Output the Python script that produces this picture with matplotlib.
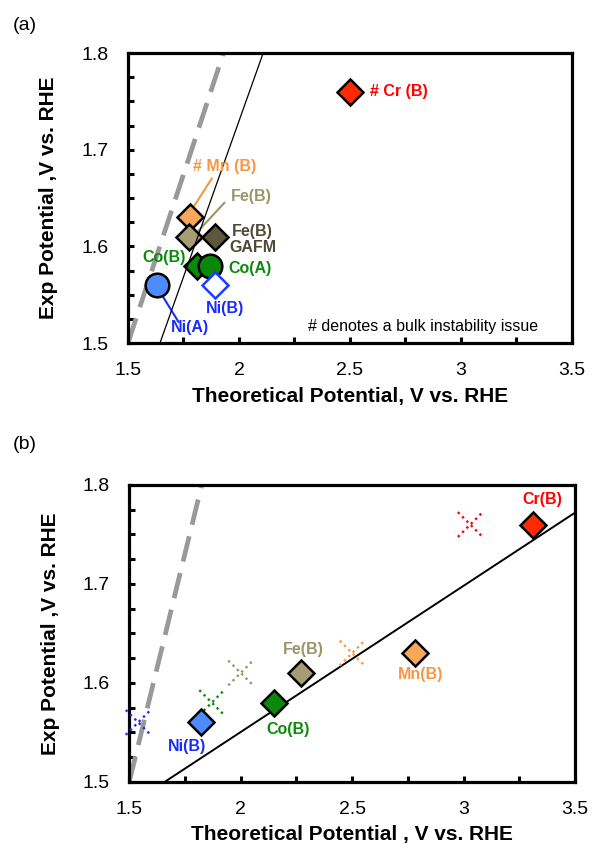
import matplotlib
matplotlib.use('Agg')
import matplotlib.pyplot as plt
import numpy as np

plt.rcParams['font.family'] = ['Liberation Sans', 'DejaVu Sans']

# ---------------- data ----------------
# Panel (a)
a_labels = ['# Cr (B)', '# Mn (B)', 'Fe(B)', 'Fe(B)\nGAFM', 'Co(B)', 'Co(A)', 'Ni(A)', 'Ni(B)']
a_theo = [2.50, 1.78, 1.775, 1.89, 1.81, 1.87, 1.63, 1.89]
a_exp = [1.76, 1.63, 1.61, 1.61, 1.58, 1.58, 1.56, 1.56]

# Panel (b)
b_labels = ['Cr(B)', 'Mn(B)', 'Fe(B)', 'Co(B)', 'Ni(B)']
b_theo = [3.31, 2.78, 2.27, 2.15, 1.82]
b_exp = [1.76, 1.63, 1.61, 1.58, 1.56]
b_cross_theo = [3.03, 2.50, 2.00, 1.87, 1.54]

# reference lines
a_dash_x, a_dash_y = [1.5, 1.93], [1.5, 1.8]
a_fit_x, a_fit_y = [1.644, 2.109], [1.5, 1.8]
b_dash_x, b_dash_y = [1.5, 1.825], [1.5, 1.8]
b_fit_x, b_fit_y = [1.66, 3.5], [1.5, 1.772]

x_ticks = [1.5, 2.0, 2.5, 3.0, 3.5]
x_ticklabels = ['1.5', '2', '2.5', '3', '3.5']
y_ticks = [1.5, 1.6, 1.7, 1.8]
y_ticklabels = ['1.5', '1.6', '1.7', '1.8']

# ---------------- styles ----------------
RED_F, RED_T = '#FF2A00', '#FF0000'
ORG_F, ORG_T = '#F7A65A', '#F79646'
TAN_F, TAN_T = '#A69D74', '#9C9467'
DRK_F, DRK_T = '#5E573F', '#4F4A35'
GRN_F, GRN_T = '#0B870B', '#0A8A0A'
BLU_F, BLU_T = '#4D8BFF', '#1A2BFF'

a_fill = [RED_F, ORG_F, TAN_F, DRK_F, GRN_F, GRN_F, BLU_F, 'white']
a_edge = ['black'] * 7 + ['#1C3CFF']
a_mark = ['D', 'D', 'D', 'D', 'D', 'o', 'o', 'D']
a_text_col = [RED_T, ORG_T, TAN_T, DRK_T, GRN_T, GRN_T, BLU_T, BLU_T]
a_text_pos = [(2.59, 1.760, 'left'), (1.794, 1.683, 'left'), (1.964, 1.652, 'left'),
              (2.062, 1.607, 'center'), (1.661, 1.588, 'center'), (1.952, 1.577, 'left'),
              (1.780, 1.516, 'center'), (1.935, 1.536, 'center')]

b_fill = [RED_F, ORG_F, TAN_F, GRN_F, BLU_F]
b_text_col = [RED_T, ORG_T, TAN_T, GRN_T, BLU_T]
b_text_pos = [(3.352, 1.7855), (2.805, 1.6086), (2.281, 1.634), (2.214, 1.553), (1.758, 1.536)]

fig = plt.figure(figsize=(5.92, 8.43), dpi=100)
axA = fig.add_axes([0.2162, 0.5931, 0.750, 0.344])
axB = fig.add_axes([0.2184, 0.0727, 0.7529, 0.352])


def style_axes(ax, xlabel, ylabel, xlab_y, ylab_x):
    ax.set_xlim(1.5, 3.5)
    ax.set_ylim(1.5, 1.8)
    ax.set_xticks(x_ticks)
    ax.set_xticklabels(x_ticklabels)
    ax.set_yticks(y_ticks)
    ax.set_yticklabels(y_ticklabels)
    ax.set_xticks(np.arange(1.75, 3.5, 0.5), minor=True)
    ax.set_yticks(np.arange(1.525, 1.8, 0.025), minor=True)
    for s in ax.spines.values():
        s.set_linewidth(2.3)
        s.set_color('black')
    ax.tick_params(which='both', direction='in', length=4, width=2.2,
                   top=False, right=False, color='black')
    ax.tick_params(axis='x', which='major', labelsize=14, pad=14)
    ax.tick_params(axis='y', which='major', labelsize=14, pad=14)
    ax.set_xlabel(xlabel, fontsize=15, fontweight='bold')
    ax.set_ylabel(ylabel, fontsize=15, fontweight='bold')
    ax.xaxis.set_label_coords(0.5, xlab_y)
    ax.yaxis.set_label_coords(ylab_x, 0.5)


# ---------------- panel (a) ----------------
style_axes(axA, 'Theoretical Potential, V vs. RHE', 'Exp Potential ,V vs. RHE', -0.152, -0.157)
axA.plot(a_dash_x, a_dash_y, color='#999999', lw=3.4, ls=(0, (5.5, 2.5)), zorder=2,
         solid_capstyle='butt', dash_capstyle='butt')
for i in range(len(a_theo)):
    ms = 17 if a_mark[i] == 'o' else 13.5
    axA.plot(a_theo[i], a_exp[i], marker=a_mark[i], ms=ms, mfc=a_fill[i], mec=a_edge[i],
             mew=1.8, ls='none', zorder=3 + i * 0.1, clip_on=False)
axA.plot(a_fit_x, a_fit_y, color='black', lw=0.9, zorder=4)
# leader lines
axA.plot([1.782, 1.877], [1.636, 1.670], color=ORG_T, lw=1.5, zorder=2.5)
axA.plot([1.817, 1.934], [1.616, 1.645], color=TAN_T, lw=1.5, zorder=2.5)
axA.plot([1.652, 1.727], [1.550, 1.522], color=BLU_T, lw=1.5, zorder=2.5)
for i, lab in enumerate(a_labels):
    x, y, ha = a_text_pos[i]
    axA.text(x, y, lab, color=a_text_col[i], fontsize=11.5, fontweight='bold',
             ha=ha, va='center', zorder=6, linespacing=1.15)
axA.text(2.312, 1.517, '# denotes a bulk instability issue', fontsize=11.5,
         ha='left', va='center', color='black')

# ---------------- panel (b) ----------------
style_axes(axB, 'Theoretical Potential , V vs. RHE', 'Exp Potential ,V vs. RHE', -0.146, -0.155)
axB.plot(b_dash_x, b_dash_y, color='#999999', lw=3.4, ls=(0, (5.5, 2.5)), zorder=2,
         dash_capstyle='butt')
axB.plot(b_fit_x, b_fit_y, color='black', lw=1.4, zorder=2)
axB.scatter(b_cross_theo, b_exp, marker='x', s=320, c=b_text_col, linewidths=1.7,
            linestyles=[(0, (1, 1.6))], zorder=3, clip_on=False)
for i in range(len(b_theo)):
    axB.plot(b_theo[i], b_exp[i], marker='D', ms=13.5, mfc=b_fill[i], mec='black',
             mew=1.8, ls='none', zorder=4)
for i, lab in enumerate(b_labels):
    x, y = b_text_pos[i]
    axB.text(x, y, lab, color=b_text_col[i], fontsize=11.5, fontweight='bold',
             ha='center', va='center', zorder=6)

fig.text(13 / 592, 1 - 25 / 843, '(a)', fontsize=14, ha='left', va='center')
fig.text(13 / 592, 1 - 445 / 843, '(b)', fontsize=14, ha='left', va='center')

fig.savefig('out.png', dpi=100)
